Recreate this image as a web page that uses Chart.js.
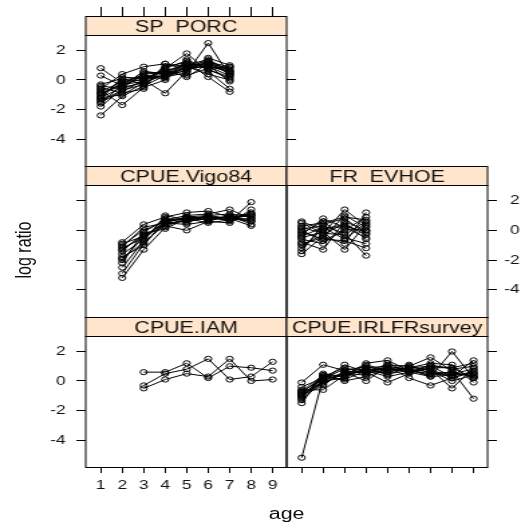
<!DOCTYPE html>
<html>
<head>
<meta charset="utf-8">
<script src="https://cdn.jsdelivr.net/npm/chart.js@4.4.1/dist/chart.umd.min.js"></script>
<style>
  html, body { margin: 0; padding: 0; background: #fff; overflow: hidden; }
  #wrap { position: absolute; left: 0; top: 0; width: 389px; height: 526px;
          transform: scaleX(1.3393); transform-origin: 0 0; }
  #wrap canvas { position: absolute; left: 0; top: 0; }
  .lab { position: absolute; font: 16px "Liberation Sans", Arial, sans-serif; color: #111;
         white-space: nowrap; }
  #xlab { left: 214px; top: 514px; transform: translate(-50%, -50%); }
  #ylab { left: 17.5px; top: 250px; transform: translate(-50%, -50%) rotate(-90deg); }
</style>
</head>
<body>
<div id="wrap">
  <div class="lab" id="xlab">age</div>
  <div class="lab" id="ylab">log ratio</div>
</div>
<script>
// ---- data ----
const ageTicks = [1, 2, 3, 4, 5, 6, 7, 8, 9];
const yTicks = [-4, -2, 0, 2];

const spPorcAges = [1, 2, 3, 4, 5, 6, 7];
const spPorc = [
  [-0.9, -0.3, 0.1, 0.6, 1.0, 1.1, 0.5],
  [-1.2, -0.5, -0.2, 0.4, 0.9, 1.3, 0.6],
  [0.8, -0.2, 0.3, 0.2, 0.5, 2.5, 0.3],
  [-2.4, -1.1, -0.4, 0.3, 1.1, 0.9, 0.7],
  [-0.6, 0.4, 0.9, 1.1, 0.7, 1.0, -0.1],
  [-1.5, -0.8, 0.0, -0.9, 0.6, 1.5, 1.0],
  [-0.3, 0.1, -0.3, 0.8, 1.8, 0.6, -0.6],
  [-1.0, -0.2, 0.4, 0.5, 0.3, 0.8, 0.9],
  [-1.8, -0.6, -0.1, 0.9, 1.2, 0.2, -0.8],
  [0.3, -0.4, 0.6, 0.4, 0.8, 1.2, 0.4],
  [-0.7, -1.7, -0.5, 0.0, 1.4, 0.7, 0.2],
  [-1.3, 0.2, 0.1, 0.7, 0.2, 1.1, 0.8],
  [-0.5, -0.9, -0.6, 1.1, 0.9, 0.4, 0.0],
  [-1.1, 0.0, 0.2, 0.1, 1.0, 1.4, 0.6],
  [-0.8, -0.1, 0.0, 0.3, 0.8, 0.9, 0.3],
  [-1.4, -0.7, -0.3, 0.6, 1.1, 1.0, 0.5],
  [-0.9, -0.4, 0.3, 0.2, 0.7, 1.2, 0.9],
  [-1.6, -0.3, -0.1, 0.8, 1.3, 0.7, 0.1],
  [-0.4, -0.6, 0.5, 0.5, 1.0, 0.9, 0.6],
  [-1.2, -1.0, -0.2, 0.4, 0.6, 1.3, 0.4]
];

const vigoAges = [2, 3, 4, 5, 6, 7, 8];
const vigo = [
  [-1.0, 0.0, 0.6, 0.8, 0.9, 0.8, 1.0],
  [-1.3, -0.3, 0.4, 0.7, 1.0, 1.1, 0.9],
  [-2.9, -0.9, 0.5, 0.6, 0.8, 0.7, 1.2],
  [-3.2, -1.3, 0.2, 0.9, 0.7, 0.9, 0.6],
  [-1.6, -0.6, 0.8, 0.5, 1.0, 0.6, 1.9],
  [-0.8, 0.4, 0.9, 1.2, 1.3, 0.9, 0.7],
  [-2.0, -0.4, 0.3, 0.0, 0.6, 1.0, 0.4],
  [-1.8, -1.0, 0.7, 1.0, 1.1, 1.4, 0.8],
  [-1.1, 0.2, 0.5, 0.4, 0.6, 0.5, 1.4],
  [-2.5, -0.7, 1.0, 0.7, 0.9, 0.8, 0.3],
  [-1.4, -0.2, 0.1, 0.8, 0.5, 0.7, 1.1],
  [-1.2, -0.5, 0.6, 0.9, 0.8, 0.9, 1.0],
  [-1.9, -0.8, 0.4, 0.7, 0.9, 0.7, 0.8],
  [-2.2, -0.1, 0.7, 0.8, 0.7, 1.0, 1.1],
  [-0.9, -0.4, 0.5, 0.9, 1.0, 0.8, 0.6]
];

const evhoeAges = [1, 2, 3, 4];
const evhoe = [
  [0.5, -0.2, 1.4, 0.3],
  [-0.3, 0.8, 0.2, -0.5],
  [-1.6, -0.4, -0.9, 1.2],
  [0.1, 0.3, -0.2, -1.7],
  [-0.8, -1.3, 0.6, 0.0],
  [0.3, 0.5, 0.9, 0.7],
  [-0.5, -0.1, -1.3, 0.4],
  [-1.2, 0.1, 0.4, -0.3],
  [0.0, -0.7, 0.0, 0.9],
  [-0.2, 0.6, -0.5, -0.9],
  [-0.9, -0.5, 1.0, 0.2],
  [0.6, 0.0, 0.3, -0.1],
  [-0.4, 0.2, -0.6, 0.5],
  [-1.0, -0.3, 0.5, -0.6],
  [-0.6, -0.9, 0.1, 0.0],
  [0.2, -0.2, -0.3, 0.6],
  [-1.4, 0.4, 0.8, -0.2],
  [-0.1, -0.6, -0.7, -1.2]
];

const iamAges = [3, 4, 5, 6, 7, 8, 9];
const iam = [
  [0.6, 0.6, 1.2, 0.2, 1.0, 0.9, 0.7],
  [-0.3, 0.5, 0.8, 1.5, 0.1, 0.3, 1.3],
  [-0.5, 0.1, 0.5, 0.3, 1.5, 0.0, 0.1]
];

const irlAges = [1, 2, 3, 4, 5, 6, 7, 8, 9];
const irl = [
  [-5.2, 0.2, 0.5, 0.7, 0.9, 0.8, 0.6, 0.4, 0.5],
  [-0.1, 1.1, 0.7, 1.0, 0.6, 0.9, 1.0, 0.3, 1.4],
  [-0.8, 0.3, 0.9, 0.5, 1.2, 0.6, 0.3, 2.0, 0.2],
  [-1.0, 0.0, 0.2, 0.9, 0.4, 1.0, 1.6, 0.7, -1.2],
  [-0.6, -0.6, 0.4, 1.2, 1.4, 0.7, 0.8, -0.5, 0.9],
  [-1.5, 0.4, 0.0, 0.3, 0.8, 1.1, 0.5, 0.6, 0.3],
  [-0.7, 0.1, 1.1, 0.6, -0.1, 0.5, 0.9, 0.9, 1.2],
  [-0.9, -0.2, 0.6, 0.0, 1.0, 0.2, -0.3, 0.2, 0.6],
  [-1.2, 0.5, 0.3, 1.1, 0.7, 0.9, 1.2, 1.1, -0.1],
  [-0.4, 0.2, 0.8, 0.8, 0.5, 0.7, 0.4, 0.5, 0.8],
  [-0.8, -0.1, 0.5, 0.4, 1.1, 1.0, 0.7, 0.0, 0.4],
  [-1.1, 0.3, 0.1, 0.7, 0.3, 0.6, 1.1, 0.8, 1.0],
  [-0.9, 0.1, 0.4, 0.8, 0.8, 0.7, 0.5, 0.6, 0.3],
  [-1.3, 0.0, 0.6, 0.6, 0.6, 0.9, 0.8, 0.2, 0.7],
  [-0.7, 0.4, 0.3, 0.9, 1.0, 0.8, 0.3, 0.4, 0.5],
  [-1.0, -0.3, 0.7, 0.5, 0.9, 0.6, 1.0, 0.9, 0.2]
];

// ---- layout (unstretched units; the wrapper stretches horizontally) ----
const W = 389, H = 526;
const COLS = [[64, 214], [214, 364]];
const ROWS = [[35, 166], [185, 317], [336, 467]];
const STRIP_H = 19;
const X_RANGE = [0.3, 9.65];
const Y_RANGE = [-5.83, 3.05];
const FONT = '"Liberation Sans", Arial, sans-serif';
// room reserved for an axis that carries labels
const LABEL_ROOM = { left: 40, right: 24, bottom: 40, top: 0 };

// axis modes: 'labels' = ticks + labels, 'ticks' = tick marks only, null = none
const panels = [
  { title: 'SP  PORC', ages: spPorcAges, series: spPorc, col: 0, row: 0,
    left: 'labels', right: 'ticks', top: 'ticks', bottom: null },
  { title: 'CPUE.Vigo84', ages: vigoAges, series: vigo, col: 0, row: 1,
    left: 'ticks', right: null, top: null, bottom: null },
  { title: 'FR  EVHOE', ages: evhoeAges, series: evhoe, col: 1, row: 1,
    left: null, right: 'labels', top: null, bottom: null },
  { title: 'CPUE.IAM', ages: iamAges, series: iam, col: 0, row: 2,
    left: 'labels', right: null, top: null, bottom: 'labels' },
  { title: 'CPUE.IRLFRsurvey', ages: irlAges, series: irl, col: 1, row: 2,
    left: null, right: 'ticks', top: null, bottom: 'ticks' }
];

// strip label above each panel, plus the panel box
const stripPlugin = {
  id: 'strip',
  afterDraw(chart, args, opts) {
    const { ctx, chartArea: a } = chart;
    const w = a.right - a.left;
    ctx.save();
    ctx.lineWidth = 1;
    ctx.strokeStyle = '#000';
    ctx.strokeRect(a.left, a.top + 0.5, w, a.bottom - a.top);
    const sy = a.top - STRIP_H;
    ctx.fillStyle = '#ffe5cc';
    ctx.fillRect(a.left, sy, w, STRIP_H);
    ctx.strokeRect(a.left, sy + 0.5, w, STRIP_H);
    ctx.beginPath();
    ctx.rect(a.left + 0.5, sy + 1, w - 1, STRIP_H - 1);
    ctx.clip();
    ctx.fillStyle = '#111';
    ctx.font = '16px ' + FONT;
    ctx.textAlign = 'center';
    ctx.textBaseline = 'alphabetic';
    ctx.fillText(opts.text, (a.left + a.right) / 2, sy + 16);
    ctx.restore();
  }
};

function axisBase(mode, side, range, tickValues, tickLen) {
  const isX = side === 'top' || side === 'bottom';
  const room = mode === 'labels' ? LABEL_ROOM[side] : 0;
  return {
    type: 'linear',
    position: side,
    axis: isX ? 'x' : 'y',
    display: mode !== null,
    min: range[0],
    max: range[1],
    afterFit: s => { if (isX) s.height = room; else s.width = room; },
    afterBuildTicks: s => { s.ticks = tickValues.map(v => ({ value: v })); },
    grid: { drawOnChartArea: false, drawTicks: true, tickLength: tickLen, color: '#000', lineWidth: 1 },
    border: { display: false },
    ticks: {
      display: mode === 'labels',
      autoSkip: false,
      maxRotation: 0,
      color: '#111',
      font: { family: FONT, size: 13 }
    }
  };
}

function reserved(mode, side) {
  return mode === 'labels' ? LABEL_ROOM[side] : 0;
}

const wrap = document.getElementById('wrap');

panels.forEach(p => {
  const [x0, x1] = COLS[p.col];
  const [y0, y1] = ROWS[p.row];
  const canvas = document.createElement('canvas');
  canvas.width = W;
  canvas.height = H;
  wrap.appendChild(canvas);

  const xBottom = axisBase(p.bottom, 'bottom', X_RANGE, ageTicks, 6);
  xBottom.ticks.padding = 5;
  const xTop = axisBase(p.top, 'top', X_RANGE, ageTicks, 28);
  const yLeft = axisBase(p.left, 'left', Y_RANGE, yTicks, 7);
  yLeft.ticks.padding = 8;
  const yRight = axisBase(p.right, 'right', Y_RANGE, yTicks, 7);
  yRight.ticks.padding = 4;
  yRight.ticks.crossAlign = 'far';

  new Chart(canvas, {
    type: 'line',
    data: {
      datasets: p.series.map(vals => ({
        data: vals.map((v, i) => ({ x: p.ages[i], y: v })),
        xAxisID: 'x',
        yAxisID: 'y',
        borderColor: '#000',
        borderWidth: 1,
        pointRadius: 2.6,
        pointBorderWidth: 1,
        pointBorderColor: '#000',
        pointBackgroundColor: 'rgba(0,0,0,0)',
        fill: false,
        tension: 0
      }))
    },
    options: {
      responsive: false,
      animation: false,
      events: [],
      layout: {
        padding: {
          left: x0 - reserved(p.left, 'left'),
          right: W - x1 - reserved(p.right, 'right'),
          top: y0 - reserved(p.top, 'top'),
          bottom: H - y1 - reserved(p.bottom, 'bottom')
        }
      },
      plugins: {
        legend: { display: false },
        tooltip: { enabled: false },
        strip: { text: p.title }
      },
      scales: { x: xBottom, xTop: xTop, y: yLeft, yRight: yRight }
    },
    plugins: [stripPlugin]
  });
});
</script>
</body>
</html>
